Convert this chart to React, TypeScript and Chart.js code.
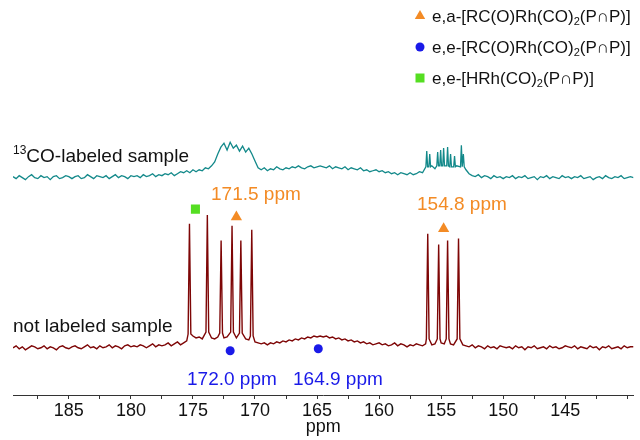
import React, { useEffect, useRef } from 'react';
import { Chart, registerables } from 'chart.js';

Chart.register(...registerables);

const FONT = '"Liberation Sans", Arial, Helvetica, sans-serif';

// chemical-shift sampling grid of the baselines (ppm, high to low)
const GRID_START = 189.5;
const GRID_STEP = 0.25;
const AXIS_MIN = 139.5;
const AXIS_MAX = 189.5;

// x-axis tick positions (ppm) and the labelled ones
const tickPpm = [140, 142.5, 145, 147.5, 150, 152.5, 155, 157.5, 160, 162.5, 165, 167.5, 170, 172.5, 175, 177.5, 180, 182.5, 185, 187.5];
const tickLabels = ['145', '150', '155', '160', '165', '170', '175', '180', '185'];

// 13CO-labeled sample: baseline intensities on the grid (a.u.)
const labeledBaseline = [
  1, -1, 2, 0, -2, 1, 3, 0, -1, 2, 0, 1, -2, 1, 2, -1, 0, 2, 1, -1,
  1, 2, -1, 0, 3, 1, -1, 2, 1, 0, 2, -1, 1, 3, 0, 2, 1, -1, 2, 1,
  2, 0, 3, 1, 2, 4, 1, 3, 2, 4, 3, 5, 2, 4, 6, 5, 7, 5, 8, 6,
  8, 7, 10, 9, 12, 16, 24, 31, 35, 28, 36, 30, 33, 27, 32, 26, 30, 24, 17, 10,
  8, 10, 7, 9, 8, 11, 9, 8, 10, 9, 11, 10, 12, 10, 9, 11, 12, 10, 11, 12,
  11, 10, 12, 9, 11, 10, 9, 11, 8, 10, 9, 8, 10, 7, 8, 6, 7, 8, 6, 7,
  5, 6, 4, 5, 3, 5, 4, 3, 5, 3, 4, 6, 5, 8, 10, 12, 9, 11, 13, 10,
  12, 11, 9, 12, 10, 11, 8, 4, 2, 1, 3, 0, 2, 1, -1, 2, 0, 1, -1, 1,
  0, 2, -1, 1, 0, 2, -1, 0, 1, -2, 1, 0, 2, -1, 1, 0, -1, 2, 0, 1,
  -1, 1, 0, 2, -1, 0, 1, -2, 0, 1, -1, 2, 0, -1, 1, 0, 2, -1, 0, 1,
  0,
];
const labeledPeakPpm = [156.16, 155.92, 155.28, 155.04, 154.8, 154.48, 154.24, 153.92, 153.37, 153.21];
const labeledPeakHeight = [27, 24, 26, 28, 30, 31, 24, 22, 33, 24];
const labeledPeakFoot = [11, 11, 12, 12, 12, 12, 11, 11, 11, 11];

// not labeled sample: baseline intensities on the grid (a.u.)
const unlabeledBaseline = [
  0, 2, -1, 1, -2, 0, 2, 1, -1, 0, 2, -1, 1, 0, -2, 1, 2, 0, -1, 1,
  2, 0, -1, 1, 3, 0, 1, -1, 2, 0, 1, 3, 0, 2, 1, -1, 2, 3, 1, 2,
  1, 3, 2, 0, 2, 4, 1, 3, 2, 3, 5, 2, 4, 6, 3, 5, 7, 10, 12, 10,
  11, 9, 13, 12, 10, 9, 11, 13, 10, 11, 12, 12, 10, 13, 10, 9, 8, 11, 6, 5,
  4, 5, 3, 5, 4, 6, 5, 7, 6, 8, 7, 9, 8, 10, 9, 11, 10, 12, 11, 12,
  11, 12, 10, 11, 9, 10, 8, 9, 7, 8, 6, 7, 5, 6, 4, 5, 3, 4, 5, 3,
  4, 2, 3, 5, 2, 4, 3, 1, 3, 2, 4, 3, 2, 4, 5, 3, 4, 6, 5, 4,
  5, 4, 3, 5, 4, 3, 2, 1, 3, 0, 2, 1, -1, 2, 0, 1, -1, 2, 1, 0,
  1, -1, 2, 0, 1, -2, 1, 0, 2, -1, 0, 1, -1, 2, 0, 1, -1, 0, 2, 1,
  0, 2, -1, 1, 0, -1, 2, 0, 1, -2, 1, 0, 2, -1, 0, 1, -1, 2, 0, 1,
  1,
];
const unlabeledPeakPpm = [175.28, 173.84, 172.73, 171.85, 171.14, 170.26, 156.08, 155.2, 154.48, 153.6];
const unlabeledPeakHeight = [126, 135, 109, 124, 109, 120, 116, 105, 109, 111];
const unlabeledPeakFoot = [14, 16, 15, 16, 15, 12, 9, 9, 9, 9];

// vertical offsets of the two stacked spectra (a.u.)
const labeledOffset = 221;
const unlabeledOffset = 48;

// assignment markers (ppm, height in a.u.)
const triangleMarkerPpm = [171.5, 154.8];
const triangleMarkerY = [181, 169];
const circleMarkerPpm = [172.0, 164.9];
const circleMarkerY = [45, 47];
const squareMarkerPpm = [174.8];
const squareMarkerY = [189];

const ORANGE = '#f38b25';
const BLUE = '#1a1ae8';
const GREEN = '#55de22';
const TEAL = '#13898a';
const DARKRED = '#7e0606';

const legendItems = [
  { shape: 'triangle', color: ORANGE, segs: [{ t: 'e,a-[RC(O)Rh(CO)' }, { t: '2', sub: true }, { t: '(P∩P)]' }] },
  { shape: 'circle', color: BLUE, segs: [{ t: 'e,e-[RC(O)Rh(CO)' }, { t: '2', sub: true }, { t: '(P∩P)]' }] },
  { shape: 'square', color: GREEN, segs: [{ t: 'e,e-[HRh(CO)' }, { t: '2', sub: true }, { t: '(P∩P)]' }] },
];

const shiftLabels = [
  { text: '171.5 ppm', color: ORANGE, x: 211, y: 200 },
  { text: '154.8 ppm', color: ORANGE, x: 417, y: 210 },
  { text: '172.0 ppm', color: BLUE, x: 187, y: 385 },
  { text: '164.9 ppm', color: BLUE, x: 293, y: 385 },
];

type Seg = { t: string; sub?: boolean; sup?: boolean };

function buildTrace(base: number[], pPpm: number[], pH: number[], pFoot: number[], offset: number, footW: number) {
  const pts: { x: number; y: number }[] = [];
  base.forEach((v, i) => {
    const ppm = GRID_START - i * GRID_STEP;
    if (pPpm.some((p) => Math.abs(p - ppm) < 0.16)) return;
    pts.push({ x: ppm, y: v + offset });
  });
  pPpm.forEach((p, k) => {
    pts.push({ x: p + footW, y: pFoot[k] + offset });
    pts.push({ x: p, y: pH[k] + offset });
    pts.push({ x: p - footW, y: pFoot[k] + offset });
  });
  pts.sort((a, b) => b.x - a.x);
  return pts;
}

function drawRich(ctx: CanvasRenderingContext2D, segs: Seg[], x: number, y: number, size: number, color: string) {
  let cx = x;
  ctx.fillStyle = color;
  ctx.textAlign = 'left';
  ctx.textBaseline = 'alphabetic';
  for (const s of segs) {
    const fs = s.sub || s.sup ? Math.round(size * 0.65) : size;
    ctx.font = `${fs}px ${FONT}`;
    const dy = s.sub ? size * 0.18 : s.sup ? -size * 0.42 : 0;
    ctx.fillText(s.t, cx, y + dy);
    cx += ctx.measureText(s.t).width;
  }
}

function drawMarker(ctx: CanvasRenderingContext2D, shape: string, x: number, y: number, color: string) {
  ctx.fillStyle = color;
  ctx.beginPath();
  if (shape === 'triangle') {
    const r = 6;
    ctx.moveTo(x, y - r);
    ctx.lineTo(x + r * 0.866, y + r * 0.5);
    ctx.lineTo(x - r * 0.866, y + r * 0.5);
    ctx.closePath();
  } else if (shape === 'circle') {
    ctx.arc(x, y, 4.5, 0, Math.PI * 2);
  } else {
    ctx.rect(x - 4.5, y - 4.5, 9, 9);
  }
  ctx.fill();
}

const annotationPlugin = {
  id: 'nmrAnnotations',
  afterDraw(chart: any) {
    const ctx: CanvasRenderingContext2D = chart.ctx;
    ctx.save();
    drawRich(ctx, [{ t: '13', sup: true }, { t: 'CO-labeled sample' }], 13, 162, 19, '#111');
    drawRich(ctx, [{ t: 'not labeled sample' }], 13, 332, 19, '#111');
    for (const l of shiftLabels) drawRich(ctx, [{ t: l.text }], l.x, l.y, 19, l.color);
    legendItems.forEach((it, i) => {
      const cy = 16 + i * 31;
      drawMarker(ctx, it.shape, 420, cy, it.color);
      drawRich(ctx, it.segs, 432, cy + 6, 17, '#111');
    });
    ctx.restore();
  },
};

export default function App() {
  const ref = useRef<HTMLCanvasElement>(null);
  useEffect(() => {
    if (!ref.current) return;
    const labeled = buildTrace(labeledBaseline, labeledPeakPpm, labeledPeakHeight, labeledPeakFoot, labeledOffset, 0.07);
    const unlabeled = buildTrace(unlabeledBaseline, unlabeledPeakPpm, unlabeledPeakHeight, unlabeledPeakFoot, unlabeledOffset, 0.11);
    const mk = (ppm: number[], ys: number[]) => ppm.map((p, i) => ({ x: p, y: ys[i] }));
    const chart = new Chart(ref.current, {
      type: 'line',
      data: {
        datasets: [
          { label: '13CO-labeled sample', data: labeled, borderColor: TEAL, borderWidth: 1.3, pointRadius: 0, tension: 0 },
          { label: 'not labeled sample', data: unlabeled, borderColor: DARKRED, borderWidth: 1.4, pointRadius: 0, tension: 0 },
          { label: 'e,a', data: mk(triangleMarkerPpm, triangleMarkerY), showLine: false, pointStyle: 'triangle', pointRadius: 6.5, backgroundColor: ORANGE, borderColor: ORANGE, borderWidth: 0 },
          { label: 'e,e acyl', data: mk(circleMarkerPpm, circleMarkerY), showLine: false, pointStyle: 'circle', pointRadius: 4.5, backgroundColor: BLUE, borderColor: BLUE, borderWidth: 0 },
          { label: 'e,e hydride', data: mk(squareMarkerPpm, squareMarkerY), showLine: false, pointStyle: 'rect', pointRadius: 6.4, backgroundColor: GREEN, borderColor: GREEN, borderWidth: 0 },
        ] as any,
      },
      options: {
        animation: false,
        responsive: false,
        maintainAspectRatio: false,
        events: [],
        layout: { padding: { left: 13, right: 0, top: 0, bottom: 0 } },
        plugins: { legend: { display: false }, tooltip: { enabled: false }, title: { display: false } },
        scales: {
          x: {
            type: 'linear',
            reverse: true,
            min: AXIS_MIN,
            max: AXIS_MAX,
            afterBuildTicks: (scale: any) => { scale.ticks = tickPpm.map((v) => ({ value: v })); },
            afterFit: (scale: any) => { scale.height = 45; },
            border: { display: true, color: '#333', width: 1 },
            grid: { drawOnChartArea: false, drawTicks: true, tickLength: 4, color: '#333' },
            ticks: {
              autoSkip: false,
              maxRotation: 0,
              minRotation: 0,
              padding: 1,
              color: '#111',
              font: { family: FONT, size: 18 },
              callback: (v: any) => {
                const s = String(Number(v));
                return tickLabels.includes(s) ? s : '';
              },
            },
            title: { display: true, text: 'ppm', color: '#111', font: { family: FONT, size: 18 }, padding: { top: 0, bottom: 2 } },
          },
          y: { display: false, min: 0, max: 395 },
        },
      } as any,
      plugins: [annotationPlugin],
    });
    return () => chart.destroy();
  }, []);
  return (
    <div style={{ position: 'fixed', left: 0, top: 0, width: 640, height: 440, background: '#fff' }}>
      <canvas ref={ref} width={640} height={440} style={{ display: 'block' }} />
    </div>
  );
}
